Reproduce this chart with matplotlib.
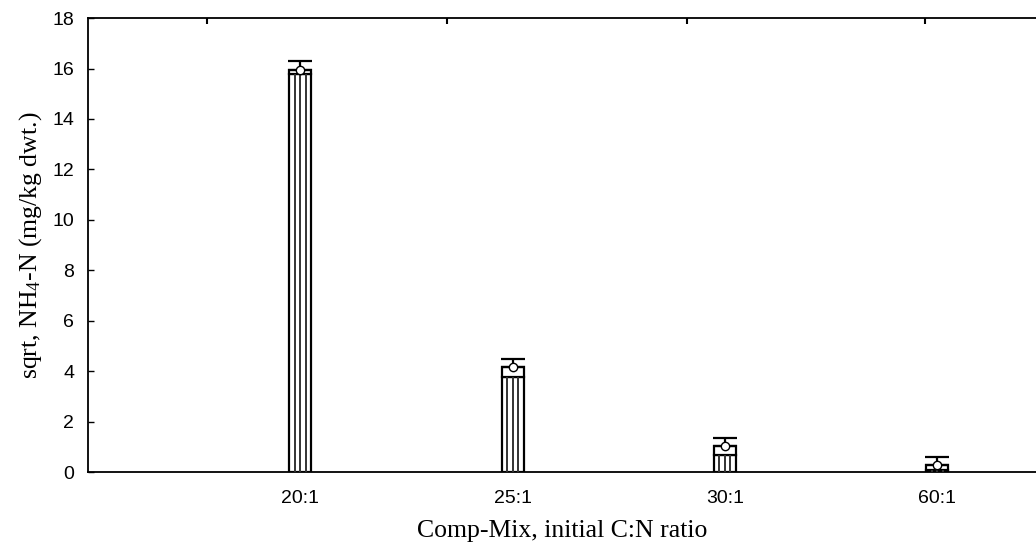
import numpy as np
import matplotlib
matplotlib.use('Agg')
import matplotlib.pyplot as plt

plt.rcParams['mathtext.fontset'] = 'custom'
plt.rcParams['mathtext.rm'] = 'Liberation Serif'
plt.rcParams['mathtext.it'] = 'Liberation Serif:italic'

# data
categories = ['20:1', '25:1', '30:1', '60:1']
means = [15.95, 4.16, 1.02, 0.26]
box_low = [15.78, 3.78, 0.67, 0.10]
upper = [16.28, 4.48, 1.36, 0.59]
top_ticks = [-0.44, 0.69, 1.82, 2.94]

fig = plt.figure(figsize=(10.36, 5.56), dpi=100)
ax = fig.add_axes([0.085, 0.151, 0.915, 0.8165])

x = np.arange(len(categories))
w = 0.104

# hatched bar body up to the lower edge of the box
ax.bar(x, box_low, width=w, color='white', edgecolor='black', linewidth=1.6, zorder=2)
for xi, lo in zip(x, box_low):
    ax.vlines([xi - w / 4, xi, xi + w / 4], 0, lo, color='#333333', linewidth=1.4, zorder=3)
# white box from lower edge to the mean
ax.bar(x, np.array(means) - np.array(box_low), bottom=box_low, width=w,
       color='white', edgecolor='black', linewidth=1.6, zorder=2)

# upper whisker with cap
err = np.array(upper) - np.array(means)
ax.errorbar(x, means, yerr=[np.zeros_like(err), err], fmt='none', ecolor='black',
            elinewidth=1.6, capsize=8.3, capthick=1.6, zorder=4)
ax.plot(x, means, 'o', ms=6, mfc='white', mec='black', mew=1.0, zorder=5)

ax.set_xlim(-1, 3.465)
ax.set_ylim(0, 18)
ax.set_yticks(np.arange(0, 19, 2))
ax.set_xticks(x)
ax.set_xticklabels(categories)
ax.tick_params(axis='x', length=0, pad=13, labelsize=14, labelfontfamily='Liberation Sans')
ax.tick_params(axis='y', direction='in', length=4, width=1, pad=10, labelsize=14,
               labelfontfamily='Liberation Sans')
ax.spines['right'].set_visible(False)
for s in ['left', 'top', 'bottom']:
    ax.spines[s].set_linewidth(1.3)

ax2 = ax.twiny()
ax2.set_xlim(ax.get_xlim())
ax2.set_xticks(top_ticks)
ax2.set_xticklabels([])
ax2.tick_params(axis='x', direction='in', length=4, width=1.5)
for s in ['right', 'left', 'bottom', 'top']:
    ax2.spines[s].set_visible(False)

ax.set_ylabel('sqrt, NH$_4$-N (mg/kg dwt.)', fontfamily='Liberation Serif', fontsize=18.5,
              labelpad=6)
ax.set_xlabel('Comp-Mix, initial C:N ratio', fontfamily='Liberation Serif', fontsize=18.5,
              labelpad=9)

fig.savefig('out.png', dpi=100)
